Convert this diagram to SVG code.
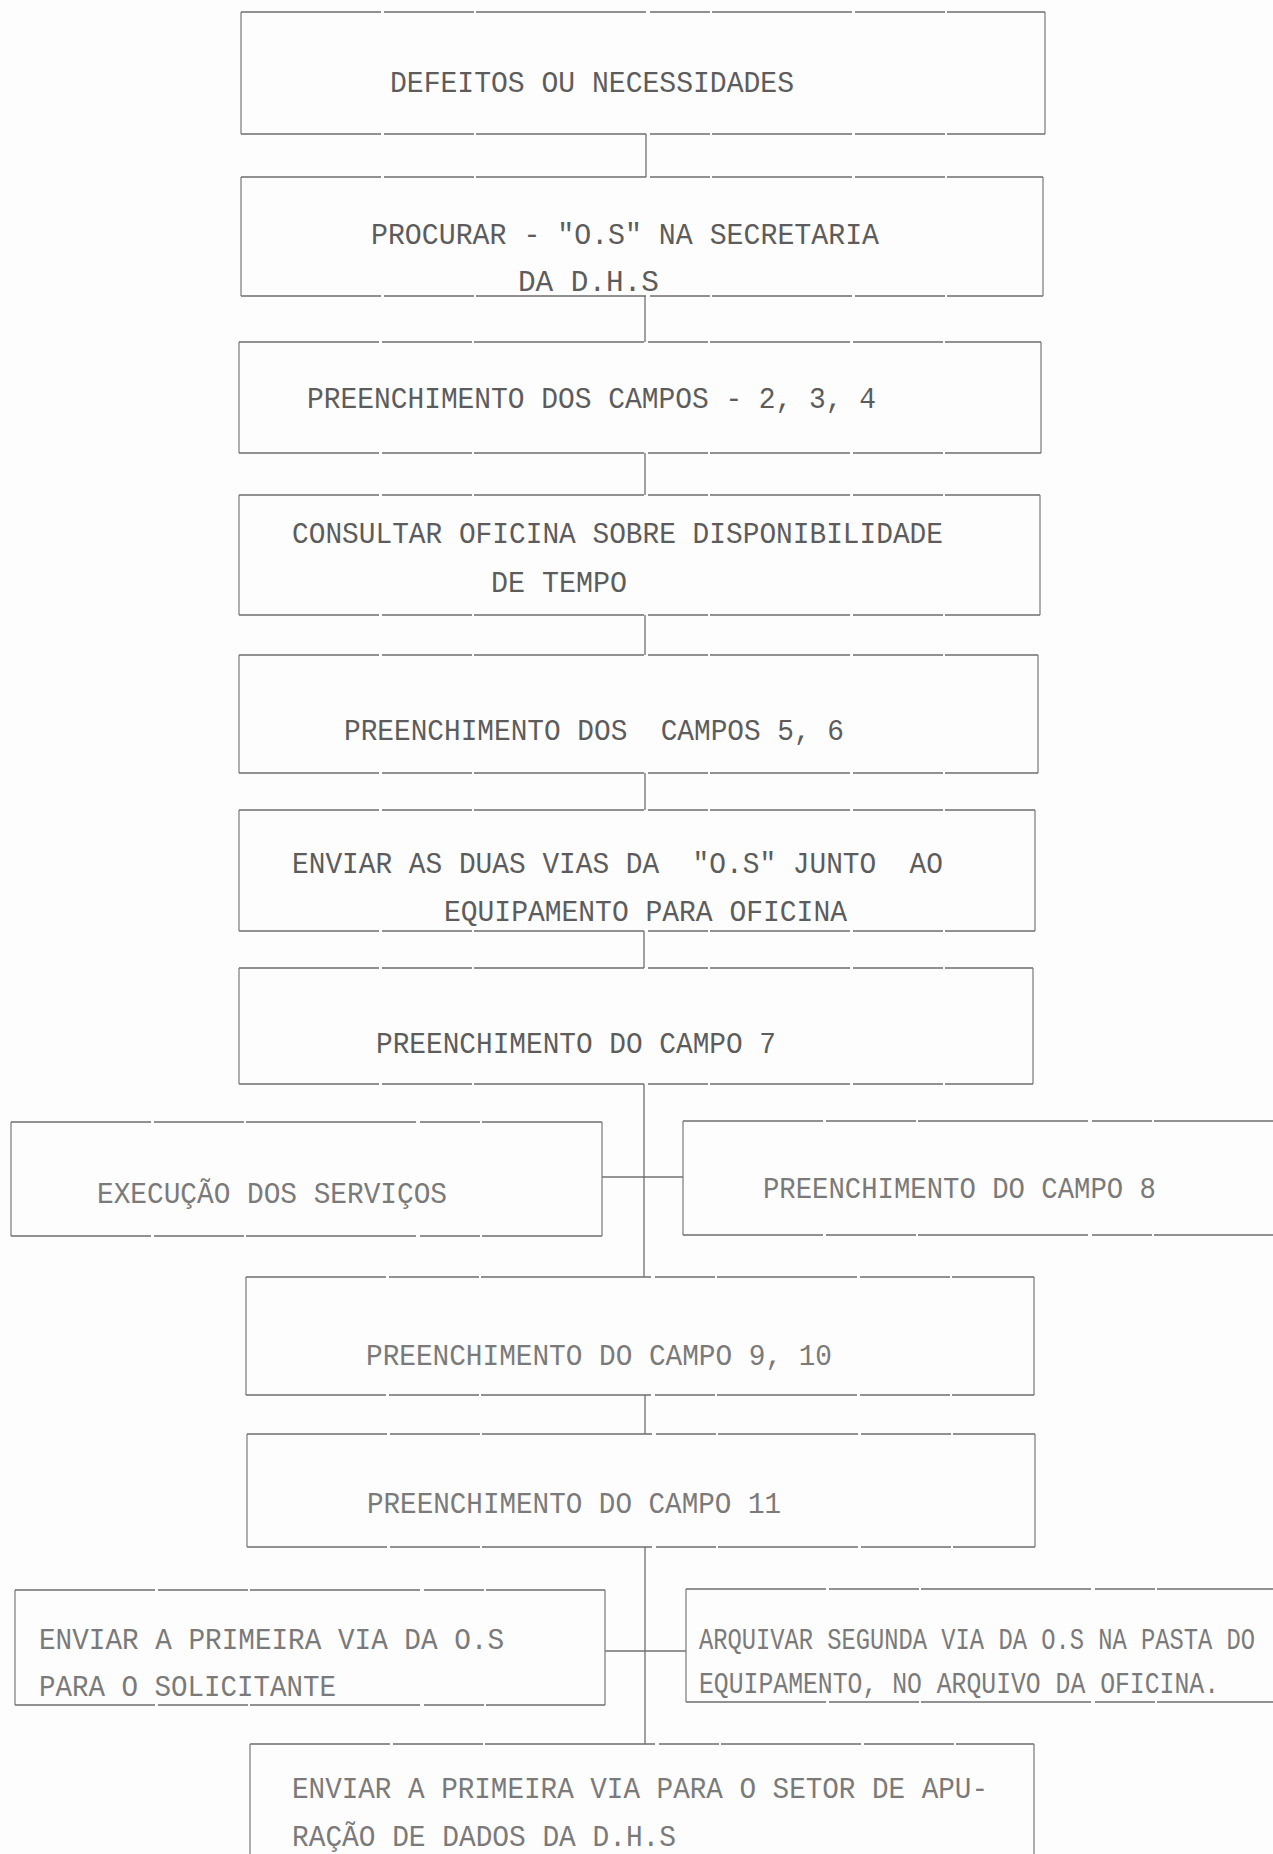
<svg xmlns="http://www.w3.org/2000/svg" width="1273" height="1854" viewBox="0 0 1273 1854">
<style>
.bg{fill:#fdfdfd}
.h{fill:none;stroke:#6e6e6e;stroke-width:1.5;stroke-dasharray:140 3 90 2 170 4 60 2}
.v{fill:none;stroke:#7a7a7a;stroke-width:1.2}
.c{fill:none;stroke:#707070;stroke-width:1.3}
.t{font-family:"Liberation Mono","Courier New",monospace;font-size:30px;fill:#5c5c5c}
.f{fill:#7a7a7a}
</style>
<rect class="bg" x="0" y="0" width="1273" height="1854"/>
<g id="connectors">
<line class="c" x1="646" y1="134" x2="646" y2="177"/>
<line class="c" x1="645" y1="296" x2="645" y2="342"/>
<line class="c" x1="645" y1="453" x2="645" y2="495"/>
<line class="c" x1="645" y1="615" x2="645" y2="655"/>
<line class="c" x1="645" y1="773" x2="645" y2="810"/>
<line class="c" x1="644" y1="931" x2="644" y2="968"/>
<line class="c" x1="644" y1="1084" x2="644" y2="1277"/>
<line class="c" x1="602" y1="1177" x2="683" y2="1177"/>
<line class="c" x1="645" y1="1395" x2="645" y2="1434"/>
<line class="c" x1="645" y1="1547" x2="645" y2="1744"/>
<line class="c" x1="605" y1="1651" x2="686" y2="1651"/>
</g>
<g id="n1">
<path class="h" d="M241 12H1045M241 134H1045"/>
<path class="v" d="M241 12V134M1045 12V134"/>
<text class="t" x="390" y="92" textLength="404" lengthAdjust="spacingAndGlyphs">DEFEITOS OU NECESSIDADES</text>
</g>
<g id="n2">
<path class="h" d="M241 177H1043M241 296H1043"/>
<path class="v" d="M241 177V296M1043 177V296"/>
<text class="t" x="371" y="244" textLength="508" lengthAdjust="spacingAndGlyphs">PROCURAR - "O.S" NA SECRETARIA</text>
<text class="t" x="518" y="291" textLength="141" lengthAdjust="spacingAndGlyphs">DA D.H.S</text>
</g>
<g id="n3">
<path class="h" d="M239 342H1041M239 453H1041"/>
<path class="v" d="M239 342V453M1041 342V453"/>
<text class="t" x="307" y="408" textLength="569" lengthAdjust="spacingAndGlyphs">PREENCHIMENTO DOS CAMPOS - 2, 3, 4</text>
</g>
<g id="n4">
<path class="h" d="M239 495H1040M239 615H1040"/>
<path class="v" d="M239 495V615M1040 495V615"/>
<text class="t" x="292" y="543" textLength="651" lengthAdjust="spacingAndGlyphs">CONSULTAR OFICINA SOBRE DISPONIBILIDADE</text>
<text class="t" x="491" y="592" textLength="136" lengthAdjust="spacingAndGlyphs">DE TEMPO</text>
</g>
<g id="n5">
<path class="h" d="M239 655H1038M239 773H1038"/>
<path class="v" d="M239 655V773M1038 655V773"/>
<text class="t" x="344" y="740" textLength="500" lengthAdjust="spacingAndGlyphs" xml:space="preserve">PREENCHIMENTO DOS  CAMPOS 5, 6</text>
</g>
<g id="n6">
<path class="h" d="M239 810H1035M239 931H1035"/>
<path class="v" d="M239 810V931M1035 810V931"/>
<text class="t" x="292" y="873" textLength="651" lengthAdjust="spacingAndGlyphs" xml:space="preserve">ENVIAR AS DUAS VIAS DA  "O.S" JUNTO  AO</text>
<text class="t" x="444" y="921" textLength="403" lengthAdjust="spacingAndGlyphs">EQUIPAMENTO PARA OFICINA</text>
</g>
<g id="n7">
<path class="h" d="M239 968H1033M239 1084H1033"/>
<path class="v" d="M239 968V1084M1033 968V1084"/>
<text class="t" x="376" y="1053" textLength="400" lengthAdjust="spacingAndGlyphs">PREENCHIMENTO DO CAMPO 7</text>
</g>
<g id="n8">
<path class="h" d="M11 1122H602M11 1236H602"/>
<path class="v" d="M11 1122V1236M602 1122V1236"/>
<text class="t f" x="97" y="1203" textLength="350" lengthAdjust="spacingAndGlyphs">EXECUÇÃO DOS SERVIÇOS</text>
</g>
<g id="n9">
<path class="h" d="M683 1121H1273M683 1235H1273"/>
<path class="v" d="M683 1121V1235"/>
<text class="t f" x="763" y="1198" textLength="393" lengthAdjust="spacingAndGlyphs">PREENCHIMENTO DO CAMPO 8</text>
</g>
<g id="n10">
<path class="h" d="M246 1277H1034M246 1395H1034"/>
<path class="v" d="M246 1277V1395M1034 1277V1395"/>
<text class="t f" x="366" y="1365" textLength="466" lengthAdjust="spacingAndGlyphs">PREENCHIMENTO DO CAMPO 9, 10</text>
</g>
<g id="n11">
<path class="h" d="M247 1434H1035M247 1547H1035"/>
<path class="v" d="M247 1434V1547M1035 1434V1547"/>
<text class="t f" x="367" y="1513" textLength="414" lengthAdjust="spacingAndGlyphs">PREENCHIMENTO DO CAMPO 11</text>
</g>
<g id="n12">
<path class="h" d="M15 1590H605M15 1705H605"/>
<path class="v" d="M15 1590V1705M605 1590V1705"/>
<text class="t f" x="39" y="1649" textLength="465" lengthAdjust="spacingAndGlyphs">ENVIAR A PRIMEIRA VIA DA O.S</text>
<text class="t f" x="39" y="1696" textLength="297" lengthAdjust="spacingAndGlyphs">PARA O SOLICITANTE</text>
</g>
<g id="n13">
<path class="h" d="M686 1589H1273M686 1702H1273"/>
<path class="v" d="M686 1589V1702"/>
<text class="t f" x="699" y="1649" textLength="556" lengthAdjust="spacingAndGlyphs">ARQUIVAR SEGUNDA VIA DA O.S NA PASTA DO</text>
<text class="t f" x="699" y="1693" textLength="520" lengthAdjust="spacingAndGlyphs">EQUIPAMENTO, NO ARQUIVO DA OFICINA.</text>
</g>
<g id="n14">
<path class="h" d="M250 1744H1034"/>
<path class="v" d="M250 1744V1854M1034 1744V1854"/>
<text class="t f" x="292" y="1798" textLength="696" lengthAdjust="spacingAndGlyphs">ENVIAR A PRIMEIRA VIA PARA O SETOR DE APU-</text>
<text class="t f" x="292" y="1846" textLength="384" lengthAdjust="spacingAndGlyphs">RAÇÃO DE DADOS DA D.H.S</text>
</g>
</svg>
